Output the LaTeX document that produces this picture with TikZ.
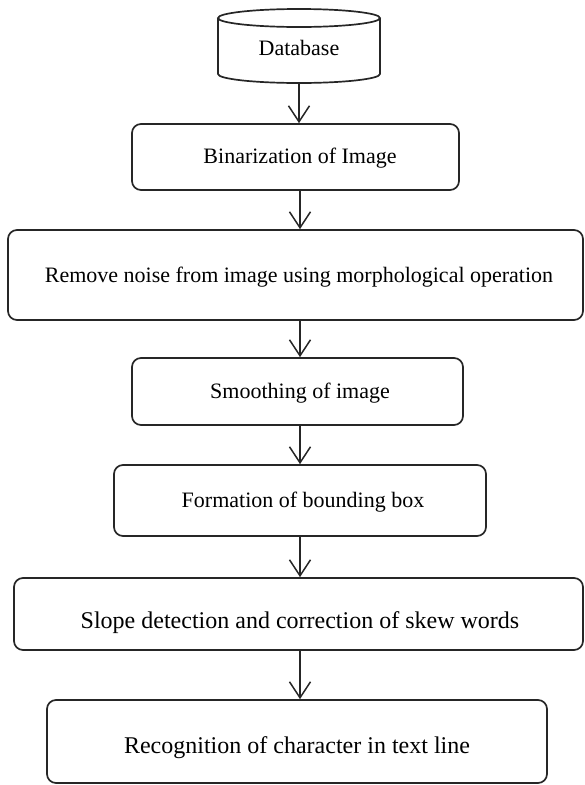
\documentclass[tikz,border=0pt]{standalone}
\usepackage{fontspec}
\setmainfont{Liberation Serif}
\usetikzlibrary{arrows.meta}
\begin{document}
\begin{tikzpicture}[x=1pt,y=-1pt,
  edge/.style={draw=black!85, line width=1.7pt},
  stepbox/.style={edge, rectangle, rounded corners=9pt, inner sep=0pt},
  lbl/.style={font=\fontsize{22}{26}\selectfont, inner sep=0pt},
  biglbl/.style={font=\fontsize{24}{28}\selectfont, inner sep=0pt},
  flow/.style={draw=black!85, line width=1.5pt, -{Straight Barb[length=16pt,width=21pt,line width=1.5pt]}}
]
\useasboundingbox (0,0) rectangle (585,785);

% Database cylinder
\draw[edge] (218,18) -- (218,74) arc[start angle=180, end angle=0, x radius=81, y radius=9] -- (380,18);
\draw[edge] (299,18) ellipse [x radius=81, y radius=9];
\node[lbl] (db) at (299,48) {Database};
\coordinate (dbbot) at (299,83);

% Boxes
\node[stepbox, minimum width=327pt, minimum height=66pt] (bin) at (295.5,157) {};
\node[lbl] (bint) at (300,158) {Binarization of Image};

\node[stepbox, minimum width=575pt, minimum height=90pt] (rem) at (295.5,275) {};
\node[lbl] (remt) at (299,277) {Remove noise from image using morphological operation};

\node[stepbox, minimum width=331pt, minimum height=67pt] (smo) at (297.5,391.5) {};
\node[lbl] (smot) at (300,393) {Smoothing of image};

\node[stepbox, minimum width=372pt, minimum height=71pt] (form) at (300,500.5) {};
\node[lbl] (formt) at (303,502) {Formation of bounding box};

\node[stepbox, minimum width=569pt, minimum height=72pt] (slope) at (298.5,614) {};
\node[biglbl] (slopet) at (300,623) {Slope detection and correction of skew words};

\node[stepbox, minimum width=500pt, minimum height=83pt] (rec) at (297,741.5) {};
\node[biglbl] (rect) at (297,748) {Recognition of character in text line};

% Arrows
\coordinate (ax) at (300,0);
\draw[flow] (dbbot) -- (bin.north -| dbbot);
\draw[flow] (bin.south -| ax) -- (rem.north -| ax);
\draw[flow] (rem.south -| ax) -- (smo.north -| ax);
\draw[flow] (smo.south -| ax) -- (form.north -| ax);
\draw[flow] (form.south -| ax) -- (slope.north -| ax);
\draw[flow] (slope.south -| ax) -- (rec.north -| ax);
\end{tikzpicture}
\end{document}
